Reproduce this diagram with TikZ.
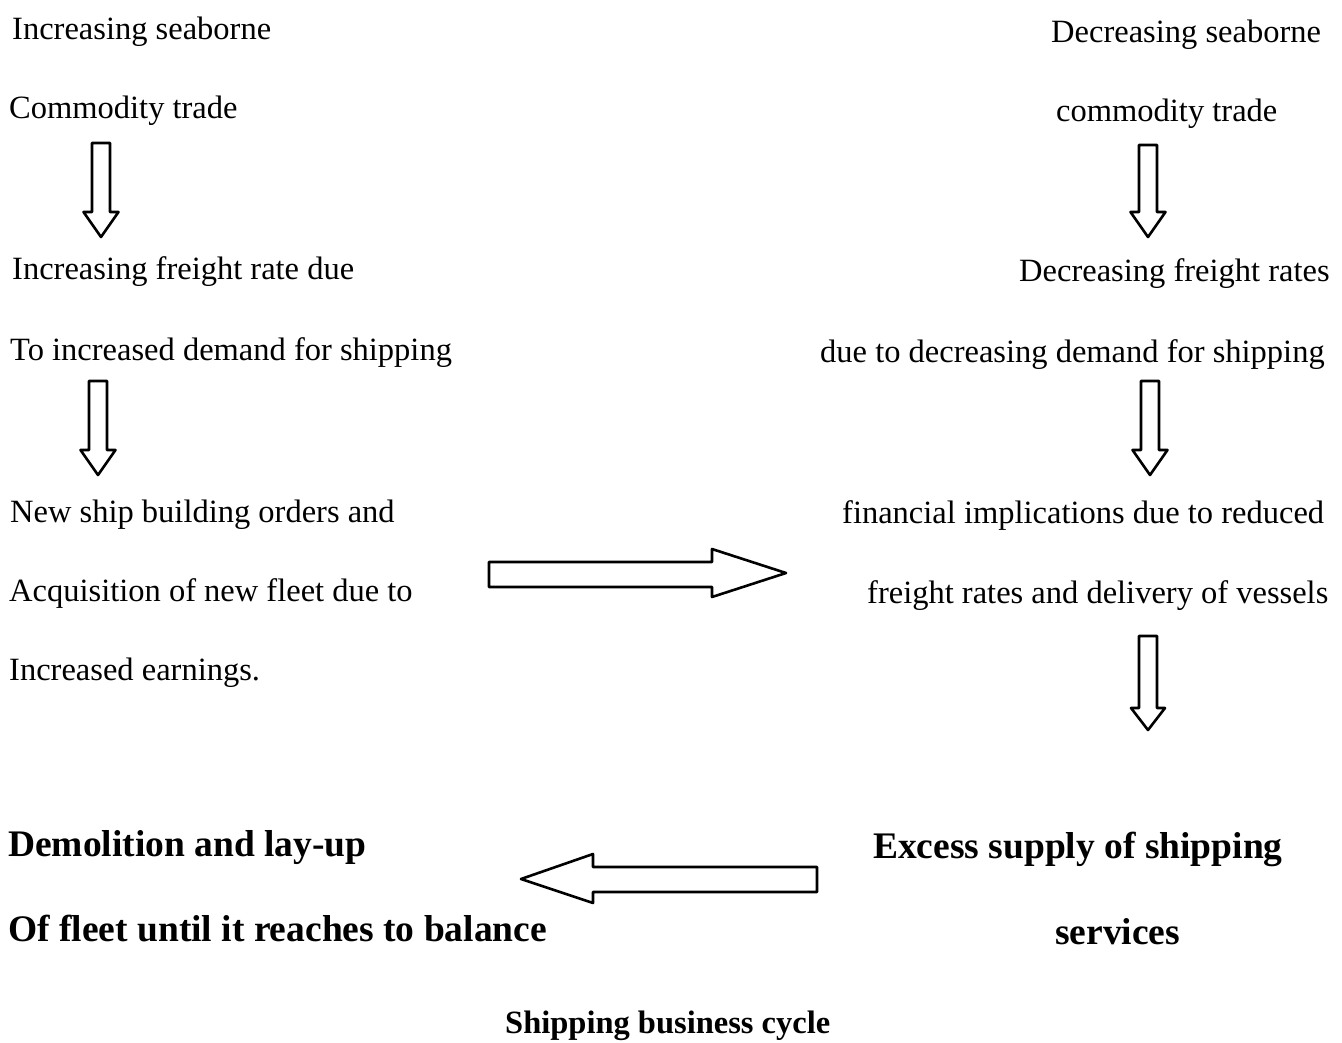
\documentclass[tikz,border=0pt]{standalone}
\usepackage{fontspec}
\setmainfont{Liberation Serif}
\newcommand{\bdown}[6]{% xc, top, headY, tipY, half shaft, half head
  \draw[blk] ({#1-#5},#2) -- ({#1+#5},#2) -- ({#1+#5},#3) -- ({#1+#6},#3) -- (#1,#4) -- ({#1-#6},#3) -- ({#1-#5},#3) -- cycle;}
\begin{document}
\begin{tikzpicture}[x=1pt,y=-1pt,
  txt/.style={anchor=base west,inner sep=0pt,font=\fontsize{32.5}{36}\selectfont},
  btxt/.style={anchor=base west,inner sep=0pt,font=\fontsize{37.5}{42}\selectfont\bfseries},
  blk/.style={line width=2.6pt,line join=round,fill=white,draw=black}]
\useasboundingbox (0,0) rectangle (1342,1042);
% left column
\node[txt] (l1) at (12,39) {Increasing seaborne};
\node[txt] (l2) at (9,118) {Commodity trade};
\node[txt] (l3) at (12,279) {Increasing freight rate due};
\node[txt] (l4) at (10,360) {To increased demand for shipping};
\node[txt] (l5) at (10,522) {New ship building orders and};
\node[txt] (l6) at (9,601) {Acquisition of new fleet due to};
\node[txt] (l7) at (9,680) {Increased earnings.};
\node[btxt] (l8) at (8,856) {Demolition and lay-up};
\node[btxt] (l9) at (8,941) {Of fleet until it reaches to balance};
% right column
\node[txt] (r1) at (1051,42) {Decreasing seaborne};
\node[txt] (r2) at (1056,121) {commodity trade};
\node[txt] (r3) at (1019,281) {Decreasing freight rates};
\node[txt] (r4) at (820,362) {due to decreasing demand for shipping};
\node[txt] (r5) at (842,523) {financial implications due to reduced};
\node[txt] (r6) at (867,603) {freight rates and delivery of vessels};
\node[btxt] (r7) at (873,858) {Excess supply of shipping};
\node[btxt] (r8) at (1055,944) {services};
% caption
\node[anchor=base west,inner sep=0pt,font=\fontsize{32.5}{36}\selectfont\bfseries] (cap) at (505,1033) {Shipping business cycle};
% down arrows
\bdown{101}{143}{212}{237}{9}{17.5}
\bdown{98}{381}{450}{475}{9}{17.5}
\bdown{1148}{145}{212}{237}{9}{17.5}
\bdown{1150}{381}{450}{475}{9}{17.5}
\bdown{1148}{636}{708}{730}{9}{17}
% right arrow
\draw[blk] (489,562) -- (712,562) -- (712,549) -- (786,573) -- (712,597) -- (712,587) -- (489,587) -- cycle;
% left arrow
\draw[blk] (817,867) -- (593,867) -- (593,854) -- (521,879) -- (593,903) -- (593,892) -- (817,892) -- cycle;
\end{tikzpicture}
\end{document}
